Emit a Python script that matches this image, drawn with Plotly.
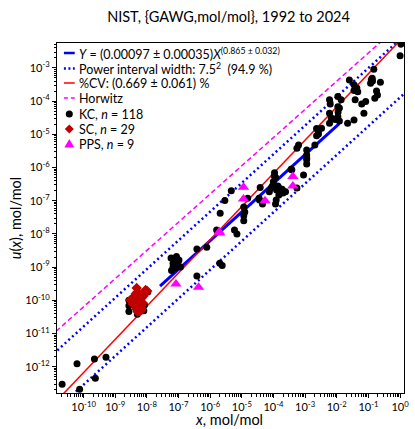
import plotly.graph_objects as go

# ---------------- data ----------------
kc_x = [2.1e-11, 7.5e-11, 6.2e-11, 2.2e-10, 2.35e-10, 5.1e-10,
        2.7e-9, 2.7e-9, 2.7e-9, 5.0e-9, 8.0e-9, 1.07e-8, 5.0e-9,
        5.8e-8, 8.6e-8, 1.03e-7, 6.7e-8, 9.2e-8, 1.15e-7, 6.0e-8, 7.7e-8,
        3.8e-7, 7.8e-7, 3.8e-7, 2.0e-6, 2.4e-6, 1.6e-6, 2.07e-6, 2.9e-6, 4.65e-6, 5.85e-6,
        7.0e-6, 1.15e-5, 1.15e-5, 1.15e-5, 1.53e-5, 3.5e-5, 3.8e-5, 4.5e-5, 7.4e-5, 1.08e-4,
        1.16e-4, 9.9e-5, 1.38e-4, 1.66e-4, 1.25e-4, 9.2e-5, 1.48e-4, 2.4e-4, 3.6e-4, 8.9e-4,
        1.16e-4, 5.5e-4, 6.2e-4, 1.12e-3, 1.12e-3, 1.12e-3, 1.12e-3, 2.3e-3, 2.6e-3, 3.3e-3,
        5.9e-3, 5.9e-3, 5.9e-3, 1.08e-2, 1.08e-2, 1.08e-2, 1.21e-2, 2.2e-2, 3.5e-2, 7.2e-2,
        2.5e-2, 3.5e-2, 4.0e-2, 4.6e-2, 3.8e-2, 8.2e-2, 0.159, 0.18, 0.117, 0.239,
        0.148, 0.132, 1.07, 1.0, 2.3e-3, 2.03e-3, 3.8e-4, 1.88e-4, 5.5e-4, 8.9e-3,
        1.21e-2, 3.5e-2, 0.123,
        3.6e-9, 5.9e-9, 8.4e-9, 4.4e-9, 7.2e-8, 9.6e-8, 6.7e-8, 1.06e-4, 1.51e-4, 2.0e-4,
        8.5e-5, 1.24e-5, 3.6e-5, 1.22e-4, 1.12e-3, 2.64e-3, 6.2e-3, 1.1e-2, 1.37e-2, 6.7e-3,
        4.3e-2, 0.135, 0.193, 6.15e-2]
kc_u = [3.0e-13, 2.1e-13, 1.23e-12, 1.7e-12, 4.5e-13, 1.95e-12,
        1.0e-10, 6.9e-11, 4.6e-11, 3.8e-11, 4.9e-11, 1.8e-10, 1.35e-10,
        1.89e-9, 2.1e-9, 1.65e-9, 1.29e-9, 1.16e-9, 1.01e-9, 7.9e-10, 9.5e-10,
        3.5e-9, 4.0e-9, 5.4e-10, 1.31e-9, 1.12e-9, 1.32e-8, 4.2e-8, 1.01e-7, 2.0e-7, 1.32e-8,
        1.0e-8, 3.5e-8, 2.5e-8, 6.5e-8, 1.19e-7, 1.19e-7, 2.5e-7, 8.0e-8, 1.88e-7, 7.0e-7,
        5.1e-7, 3.76e-7, 2.8e-7, 2.1e-7, 2.1e-7, 2.8e-7, 1.5e-7, 1.88e-7, 8.9e-7, 6.0e-7,
        8.0e-8, 3.8e-6, 4.8e-6, 3.4e-6, 2.4e-6, 1.7e-6, 1.28e-6, 9.0e-6, 1.2e-5, 1.53e-5,
        1.09e-4, 4.3e-5, 2.16e-5, 1.37e-4, 6.8e-5, 3.4e-5, 2.5e-5, 2.16e-5, 2.7e-5, 4.3e-5,
        4.35e-4, 3.1e-4, 2.17e-4, 1.9e-4, 1.09e-4, 9.7e-5, 1.22e-4, 2.03e-4, 3.46e-4, 3.7e-4,
        9.1e-4, 4.9e-4, 5.2e-3, 2.34e-3, 1.49e-5, 4.8e-6, 8.5e-7, 2.2e-7, 2.4e-7, 2.8e-5,
        6.2e-5, 2.07e-4, 4.4e-4,
        1.18e-10, 1.46e-10, 7.3e-11, 5.9e-11, 1.65e-9, 1.44e-9, 1.01e-9, 5.6e-7, 2.43e-7, 1.72e-7,
        2.43e-7, 4.6e-8, 1.06e-7, 1.06e-7, 1.95e-6, 1.03e-5, 8.2e-5, 4.7e-5, 1.09e-4, 3.1e-5,
        2.5e-4, 4.06e-4, 1.54e-4, 8.2e-5]

sc_x = [4.75e-9, 1.02e-8, 3.0e-9, 4.1e-9, 5.5e-9, 6.8e-9, 5.9e-9, 4.75e-9, 7.3e-9, 4.3e-9,
        5.5e-9, 6.6e-9, 4.75e-9, 5.9e-9, 4.4e-9, 5.1e-9, 6.3e-9, 3.8e-9, 5.5e-9, 6.8e-9,
        4.9e-9, 6.1e-9, 4.4e-9, 7.8e-9, 5.1e-9, 9.1e-9, 3.6e-9, 6.8e-9, 5.1e-9]
sc_u = [2.36e-10, 1.92e-10, 1.03e-10, 1.26e-10, 1.36e-10, 1.18e-10, 9.6e-11, 8.4e-11, 8.4e-11, 7.3e-11,
        6.8e-11, 5.9e-11, 5.5e-11, 4.8e-11, 1.03e-10, 1.03e-10, 9.0e-11, 9.0e-11, 7.8e-11, 7.3e-11,
        6.3e-11, 1.1e-10, 1.56e-10, 1.36e-10, 1.79e-10, 2.06e-10, 7.8e-11, 5.1e-11, 4.5e-11]

pps_x = [8.3e-8, 4.3e-7, 1.93e-6, 2.0e-6, 1.13e-5, 1.13e-5, 5.4e-5, 4.1e-4, 4.1e-4]
pps_u = [3.1e-10, 2.5e-10, 1.17e-8, 1.07e-8, 2.55e-7, 1.13e-7, 1.0e-7, 5.4e-7, 2.8e-7]

# model parameters
fit_a, fit_b = 0.00097, 0.865
interval_factor = 7.5
cv = 0.00669
horwitz_a, horwitz_b = 0.02, 0.8495
fit_x_range = [2.6e-8, 1.2e-2]
line_x_range = [1e-12, 10.0]

x_tick_vals = [1e-10, 1e-9, 1e-8, 1e-7, 1e-6, 1e-5, 1e-4, 1e-3, 1e-2, 1e-1, 1e0]
x_tick_text = ["10<sup>-10</sup>", "10<sup>-9</sup>", "10<sup>-8</sup>", "10<sup>-7</sup>",
               "10<sup>-6</sup>", "10<sup>-5</sup>", "10<sup>-4</sup>", "10<sup>-3</sup>",
               "10<sup>-2</sup>", "10<sup>-1</sup>", "10<sup>0</sup>"]
y_tick_vals = [1e-12, 1e-11, 1e-10, 1e-9, 1e-8, 1e-7, 1e-6, 1e-5, 1e-4, 1e-3]
y_tick_text = ["10<sup>-12</sup>", "10<sup>-11</sup>", "10<sup>-10</sup>", "10<sup>-9</sup>",
               "10<sup>-8</sup>", "10<sup>-7</sup>", "10<sup>-6</sup>", "10<sup>-5</sup>",
               "10<sup>-4</sup>", "10<sup>-3</sup>"]

legend_labels = [
    "<i>Y</i> = (0.00097 ± 0.00035)<i>X</i><sup>(0.865 ± 0.032)</sup>",
    "Power interval width: 7.5<sup>2</sup>  (94.9 %)",
    "%CV: (0.669 ± 0.061) %",
    "Horwitz",
    "KC, <i>n</i> = 118",
    "SC, <i>n</i> = 29",
    "PPS, <i>n</i> = 9",
]

FONT = "Lato"
W, H = 415, 429
ML, MR, MT, MB = 57, 6, 43, 36
PW, PH = W - ML - MR, H - MT - MB


def power(a, b, xs):
    return [a * x ** b for x in xs]


def xp(px):
    return (px - ML) / PW


def yp(py):
    return (H - MB - py) / PH


fig = go.Figure()

fig.add_trace(go.Scatter(
    x=fit_x_range, y=power(fit_a, fit_b, fit_x_range), mode="lines",
    line=dict(color="#0000ff", width=3), name=legend_labels[0]))
fig.add_trace(go.Scatter(
    x=line_x_range, y=power(fit_a * interval_factor, fit_b, line_x_range), mode="lines",
    line=dict(color="#0000ff", width=2.5, dash="2px,3px"), name=legend_labels[1]))
fig.add_trace(go.Scatter(
    x=line_x_range, y=power(fit_a / interval_factor, fit_b, line_x_range), mode="lines",
    line=dict(color="#0000ff", width=2.5, dash="2px,3px"), name=legend_labels[1]))
fig.add_trace(go.Scatter(
    x=line_x_range, y=power(cv, 1.0, line_x_range), mode="lines",
    line=dict(color="#ff0000", width=1.5), name=legend_labels[2]))
fig.add_trace(go.Scatter(
    x=line_x_range, y=power(horwitz_a, horwitz_b, line_x_range), mode="lines",
    line=dict(color="#ff00ff", width=1.5, dash="5px,3px"), name=legend_labels[3]))
fig.add_trace(go.Scatter(
    x=kc_x, y=kc_u, mode="markers",
    marker=dict(color="black", size=7, symbol="circle"), name=legend_labels[4]))
fig.add_trace(go.Scatter(
    x=sc_x, y=sc_u, mode="markers",
    marker=dict(color="#c00000", size=8, symbol="diamond"), name=legend_labels[5]))
fig.add_trace(go.Scatter(
    x=pps_x, y=pps_u, mode="markers",
    marker=dict(color="#ff00ff", size=10, symbol="triangle-up"), name=legend_labels[6]))

# ---------- hand-drawn legend (compact, like the reference) ----------
row_y = [53, 68.5, 83, 98, 114, 129, 144]
sym_x0, sym_x1, sym_xc, text_x = 64, 75, 69.5, 77
line_styles = [
    dict(color="#0000ff", width=2.5, dash="solid"),
    dict(color="#0000ff", width=2.5, dash="2px,2.5px"),
    dict(color="#ff0000", width=1.5, dash="solid"),
    dict(color="#ff00ff", width=1.5, dash="4px,3px"),
]
shapes = []
for i, st in enumerate(line_styles):
    shapes.append(dict(type="line", xref="paper", yref="paper",
                       x0=xp(sym_x0), x1=xp(sym_x1), y0=yp(row_y[i]), y1=yp(row_y[i]),
                       line=st))
shapes.append(dict(type="circle", xref="paper", yref="paper", xsizemode="pixel", ysizemode="pixel",
                   xanchor=xp(sym_xc), yanchor=yp(row_y[4]), x0=-3.5, x1=3.5, y0=-3.5, y1=3.5,
                   fillcolor="black", line=dict(width=0)))
shapes.append(dict(type="path", xref="paper", yref="paper", xsizemode="pixel", ysizemode="pixel",
                   xanchor=xp(sym_xc), yanchor=yp(row_y[5]),
                   path="M 0 4.5 L 4.5 0 L 0 -4.5 L -4.5 0 Z",
                   fillcolor="#c00000", line=dict(width=0)))
shapes.append(dict(type="path", xref="paper", yref="paper", xsizemode="pixel", ysizemode="pixel",
                   xanchor=xp(sym_xc), yanchor=yp(row_y[6]),
                   path="M 0 5 L 5 -3.5 L -5 -3.5 Z",
                   fillcolor="#ff00ff", line=dict(width=0)))

annotations = []
for i, lab in enumerate(legend_labels):
    annotations.append(dict(text=lab, xref="paper", yref="paper", x=xp(text_x), y=yp(row_y[i]),
                            xanchor="left", yanchor="middle", showarrow=False,
                            font=dict(family=FONT, size=12.5, color="black")))
annotations.append(dict(text="<i>x</i>, mol/mol", xref="paper", yref="paper",
                        x=xp(231), y=yp(419.5), xanchor="center", yanchor="middle", showarrow=False,
                        font=dict(family=FONT, size=14.5, color="black")))

axis_common = dict(
    type="log", showgrid=False, zeroline=False,
    showline=True, linecolor="black", linewidth=1, mirror=True,
    ticks="outside", ticklen=4, tickwidth=1, tickcolor="black",
    minor=dict(ticks="outside", ticklen=2.5, tickcolor="black", dtick="D1"),
    tickfont=dict(family=FONT, size=11, color="black"),
)

fig.update_xaxes(**axis_common, range=[-10.84, 0.124],
                 tickvals=x_tick_vals, ticktext=x_tick_text)
fig.update_yaxes(**axis_common, range=[-12.79, -2.25],
                 tickvals=y_tick_vals, ticktext=y_tick_text,
                 title=dict(text="<i>u</i>(<i>x</i>), mol/mol", font=dict(family=FONT, size=14.5, color="black"),
                            standoff=0))

fig.update_layout(
    width=W, height=H,
    margin=dict(l=ML, r=MR, t=MT, b=MB),
    paper_bgcolor="white", plot_bgcolor="white",
    title=dict(text="NIST, {GAWG,mol/mol}, 1992 to 2024", xref="paper", x=xp(231), xanchor="center",
               yref="container", y=1 - 17 / H, yanchor="middle",
               font=dict(family=FONT, size=14.5, color="black")),
    font=dict(family=FONT, color="black"),
    showlegend=False,
    shapes=shapes,
    annotations=annotations,
)

# remove the browser's default page margin so the figure sits at the window origin
fig.write_html("out.html", config={"displayModeBar": False},
               post_script="document.body.style.margin='0';document.body.style.overflow='hidden';")
